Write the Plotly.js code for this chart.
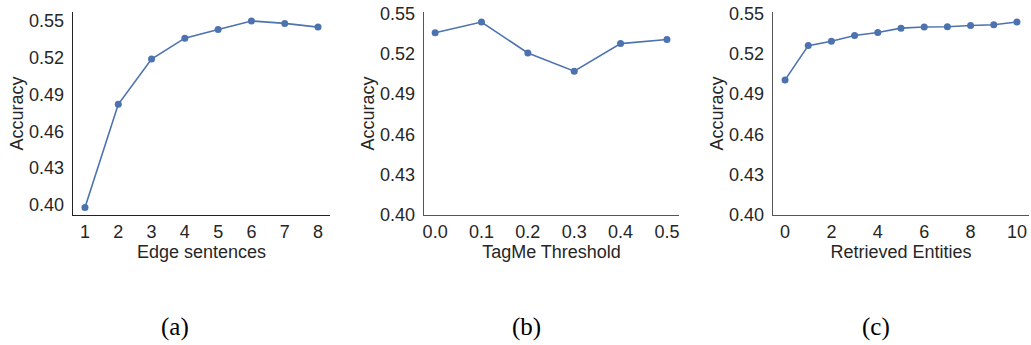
<!DOCTYPE html>
<html>
<head>
<meta charset="utf-8">
<script src="https://cdn.plot.ly/plotly-3.0.1.min.js"></script>
<style>html,body{margin:0;padding:0;background:#fff;}#chart{width:1031px;height:345px;}</style>
</head>
<body>
<div id="chart"></div>
<script>
// Panel (a)
const edgeSentences = [1, 2, 3, 4, 5, 6, 7, 8];
const accEdge = [0.398, 0.482, 0.519, 0.536, 0.543, 0.550, 0.548, 0.545];
// Panel (b)
const tagmeThreshold = [0.0, 0.1, 0.2, 0.3, 0.4, 0.5];
const accTagme = [0.5355, 0.5435, 0.5205, 0.5070, 0.5275, 0.5305];
// Panel (c)
const retrievedEntities = [0, 1, 2, 3, 4, 5, 6, 7, 8, 9, 10];
const accRetrieved = [0.5005, 0.5260, 0.5293, 0.5335, 0.5358, 0.5390, 0.5398, 0.5400, 0.5410, 0.5415, 0.5435];

const yTicks = [0.40, 0.43, 0.46, 0.49, 0.52, 0.55];
const panelLabels = ["(a)", "(b)", "(c)"];
const xTitles = ["Edge sentences", "TagMe Threshold", "Retrieved Entities"];
const yTitle = "Accuracy";

const blue = "#4c72b0";
const textColor = "#262626";
const fontFam = "Liberation Sans, Arial, sans-serif";

function trace(x, y, xa, ya) {
  return {x: x, y: y, xaxis: xa, yaxis: ya, type: "scatter", mode: "lines+markers",
    line: {color: blue, width: 1.6}, marker: {color: blue, size: 7}, hoverinfo: "none"};
}

const data = [
  trace(edgeSentences, accEdge, "x", "y"),
  trace(tagmeThreshold, accTagme, "x2", "y2"),
  trace(retrievedEntities, accRetrieved, "x3", "y3")
];

const W = 1031, H = 345;
const yDom = [1 - 215 / H, 1 - 12 / H];
function xaxis(dom, range, tickvals, fmt, title, lc) {
  return {domain: [dom[0] / W, dom[1] / W], range: range, tickvals: tickvals, tickformat: fmt,
    showgrid: false, zeroline: false, showline: true, linecolor: lc, linewidth: 1.3, ticks: "",
    tickfont: {family: fontFam, size: 18, color: textColor}, ticklabelstandoff: 0,
    title: {text: title, font: {family: fontFam, size: 18, color: textColor}, standoff: 0},
    fixedrange: true};
}
function yaxis(anchor, range, lc) {
  return {domain: yDom, range: range, tickvals: yTicks, tickformat: ".2f", anchor: anchor,
    showgrid: false, zeroline: false, showline: true, linecolor: lc, linewidth: 1.3, ticks: "",
    tickfont: {family: fontFam, size: 18, color: textColor}, ticklabelstandoff: 4,
    title: {text: yTitle, font: {family: fontFam, size: 18, color: textColor}, standoff: 0},
    fixedrange: true};
}

const layout = {
  width: W, height: H,
  margin: {l: 0, r: 0, t: 0, b: 0},
  paper_bgcolor: "#fff", plot_bgcolor: "#fff",
  showlegend: false,
  xaxis: Object.assign(xaxis([73, 330], [0.64, 8.36], edgeSentences, "d", xTitles[0], "#222"), {anchor: "y"}),
  yaxis: yaxis("x", [0.3918, 0.5573], "#222"),
  xaxis2: Object.assign(xaxis([424, 679], [-0.024, 0.526], tagmeThreshold, ".1f", xTitles[1], "#555"), {anchor: "y2"}),
  yaxis2: yaxis("x2", [0.40, 0.551], "#555"),
  xaxis3: Object.assign(xaxis([773, 1029], [-0.52, 10.52], [0, 2, 4, 6, 8, 10], "d", xTitles[2], "#555"), {anchor: "y3"}),
  yaxis3: yaxis("x3", [0.40, 0.551], "#555"),
  annotations: panelLabels.map((t, i) => ({
    text: t, xref: "paper", yref: "paper", x: [175, 526, 876][i] / W, y: 1 - 327 / H,
    xanchor: "center", yanchor: "middle", showarrow: false,
    font: {family: "Liberation Serif, DejaVu Serif, serif", size: 25, color: "#000"}
  }))
};

Plotly.newPlot("chart", data, layout, {staticPlot: true, displayModeBar: false});
</script>
</body>
</html>
